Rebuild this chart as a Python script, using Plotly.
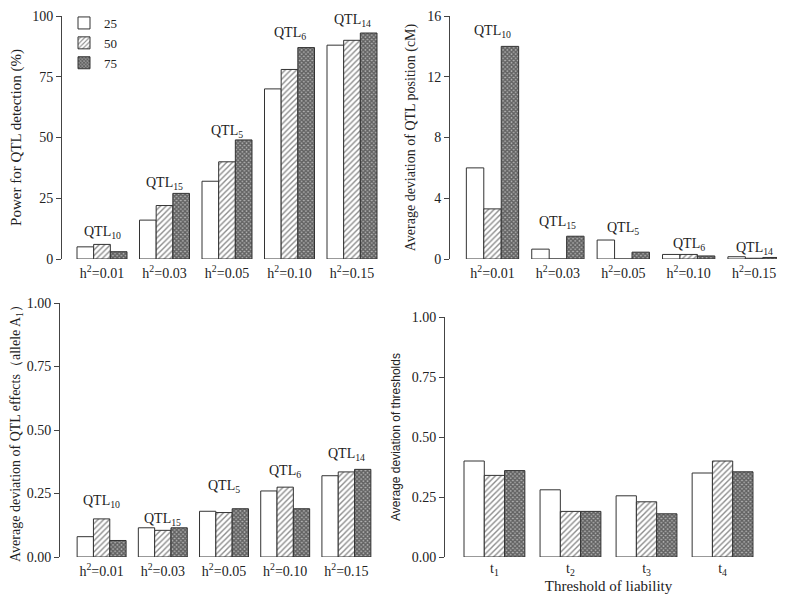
import plotly.graph_objects as go

# Data #
series_names = ["25", "50", "75"]
h2_levels = ["0.01", "0.03", "0.05", "0.10", "0.15"]
qtl_labels = ["10", "15", "5", "6", "14"]
thresholds = ["1", "2", "3", "4"]

power_25 = [5, 16, 32, 70, 88]
power_50 = [6, 22, 40, 78, 90]
power_75 = [3, 27, 49, 87, 93]

position_25 = [6.0, 0.65, 1.25, 0.3, 0.15]
position_50 = [3.3, 0.0, 0.0, 0.3, 0.05]
position_75 = [14.0, 1.5, 0.45, 0.2, 0.1]

effect_25 = [0.08, 0.115, 0.18, 0.26, 0.32]
effect_50 = [0.15, 0.105, 0.175, 0.275, 0.335]
effect_75 = [0.065, 0.115, 0.19, 0.19, 0.345]

thresh_25 = [0.40, 0.28, 0.255, 0.35]
thresh_50 = [0.34, 0.19, 0.23, 0.40]
thresh_75 = [0.36, 0.19, 0.18, 0.355]

# Label heights (data units) for the QTL annotations #
power_label_y = [10.8, 30.9, 52.6, 92.8, 98.0]
position_label_y = [14.97, 2.38, 1.99, 0.96, 0.71]
effect_label_y = [0.217, 0.146, 0.276, 0.335, 0.402]

FONT = "Liberation Serif, Times New Roman, serif"
SANS = "Liberation Sans, Arial, sans-serif"
INK = "#222222"

# page has an 8px body margin, so the figure is a bit smaller than the window
W, H, OFF = 777, 589, 8

def fx(px):
    return (px - OFF) / W

def fy(py):
    return 1 - (py - OFF) / H

patterns = [
    dict(shape="", fgcolor="black", bgcolor="white"),
    dict(shape="/", fgcolor="#1a1a1a", bgcolor="white", size=4, solidity=0.35),
    dict(shape="x", fgcolor="#111111", bgcolor="#b0b0b0", size=3, solidity=0.7),
]

h2_ticks = [f"h<sup>2</sup>={v}" for v in h2_levels]
t_ticks = [f"t<sub>{t}</sub>" for t in thresholds]

fig = go.Figure()

panels = [
    ("x", "y", h2_ticks, [power_25, power_50, power_75]),
    ("x2", "y2", h2_ticks, [position_25, position_50, position_75]),
    ("x3", "y3", h2_ticks, [effect_25, effect_50, effect_75]),
    ("x4", "y4", t_ticks, [thresh_25, thresh_50, thresh_75]),
]

for p, (xa, ya, cats, series) in enumerate(panels):
    for i, vals in enumerate(series):
        fig.add_trace(go.Bar(x=cats, y=vals,
                             xaxis=xa, yaxis=ya,
                             name=series_names[i],
                             legendgroup=series_names[i],
                             showlegend=(p == 0),
                             marker=dict(color="white",
                                         pattern=patterns[i],
                                         line=dict(color="#333333", width=1)),
                             )
        )

# QTL annotations #
annotations = []
for xa, ya, ys in [("x", "y", power_label_y), ("x2", "y2", position_label_y), ("x3", "y3", effect_label_y)]:
    for j, q in enumerate(qtl_labels):
        annotations.append(dict(x=h2_ticks[j], y=ys[j], xref=xa, yref=ya,
                                text=f"QTL<sub>{q}</sub>", showarrow=False,
                                font=dict(size=14, family=FONT, color=INK)))

# Figure Layout #
axis_font = dict(size=14, family=FONT, color=INK)

def yax(domain, rng, dtick, fmt, title, tfont):
    return dict(domain=domain, range=rng, dtick=dtick, tickformat=fmt,
                showline=True, linecolor="#444444", linewidth=1,
                ticks="outside", ticklen=5, tickcolor="#444444",
                showgrid=False, zeroline=False, tickfont=axis_font,
                automargin=False, ticklabeloverflow="allow",
                title=dict(text=title, font=tfont, standoff=8))

def xax(domain, rng, anchor, standoff):
    return dict(domain=domain, range=rng, anchor=anchor,
                showline=False, showgrid=False, zeroline=False,
                automargin=False, ticks="", tickfont=axis_font,
                ticklabelstandoff=standoff)

fig.update_layout(
    width=W, height=H,
    margin=dict(l=0, r=0, t=0, b=0),
    paper_bgcolor="white", plot_bgcolor="white",
    barmode="group", bargap=0.2, bargroupgap=0,
    font=dict(family=FONT, color=INK),
    showlegend=True,
    legend=dict(x=fx(64), y=1.0, xanchor="left", yanchor="top",
                font=dict(size=13, family=FONT, color=INK),
                bgcolor="rgba(0,0,0,0)", tracegroupgap=0),
    xaxis=xax([fx(62), fx(392)], [-0.64, 4.64], "y", 4),
    yaxis=yax([fy(259), fy(16)], [0, 100], 25, "d",
              "Power for QTL detection (%)", dict(size=15, family=FONT, color=INK)),
    xaxis2=xax([fx(450), fx(783.5)], [-0.65, 4.45], "y2", 4),
    yaxis2=yax([fy(259), fy(16)], [0, 16], 4, "d",
               "Average deviation of QTL position (cM)", dict(size=14, family=FONT, color=INK)),
    xaxis3=xax([fx(60), fx(388)], [-0.68, 4.68], "y3", 4),
    yaxis3=yax([fy(557), fy(303)], [0, 1], 0.25, ".2f",
               "Average deviation of QTL effects（allele A<sub>1</sub>）", dict(size=14, family=FONT, color=INK)),
    xaxis4=xax([fx(445), fx(772)], [-0.65, 3.65], "y4", 1),
    yaxis4=yax([fy(557), fy(317)], [0, 1], 0.25, ".2f",
               "Average deviation of thresholds", dict(size=12, family=SANS, color=INK)),
    annotations=annotations,
)
fig.update_layout(yaxis2=dict(anchor="x2"), yaxis3=dict(anchor="x3"), yaxis4=dict(anchor="x4"))
fig.update_layout(xaxis4=dict(title=dict(text="Threshold of liability",
                                         font=dict(size=15, family=FONT, color=INK), standoff=0)))

fig.write_html("out.html")
